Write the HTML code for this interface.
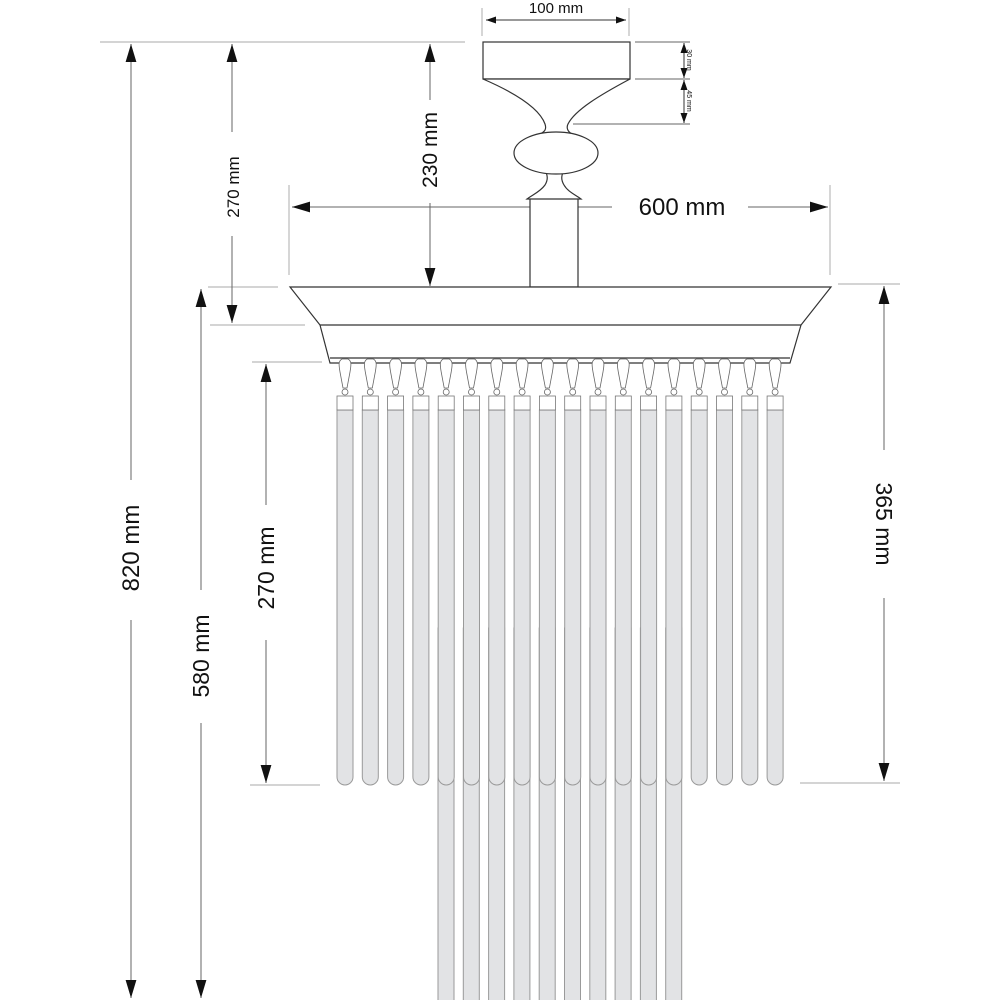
<!DOCTYPE html>
<html><head><meta charset="utf-8"><style>html,body{margin:0;padding:0;background:#fff}svg{display:block}</style></head><body>
<svg width="1000" height="1000" viewBox="0 0 1000 1000" xmlns="http://www.w3.org/2000/svg" font-family="Liberation Sans, sans-serif">
<defs>
<marker id="a" viewBox="0 0 10 10" refX="10" refY="5" markerWidth="10" markerHeight="10" markerUnits="userSpaceOnUse" orient="auto-start-reverse"><path d="M0,1.5 L10,5 L0,8.5 z" fill="#111"/></marker>
<marker id="b" viewBox="0 0 10 10" refX="10" refY="5" markerWidth="18" markerHeight="18" markerUnits="userSpaceOnUse" orient="auto-start-reverse"><path d="M0,2 L10,5 L0,8 z" fill="#111"/></marker>
<g id="rod"><path d="M-3,359 C-7,361 -6,366 -5,372 L-2,388 L2,388 L5,372 C6,366 7,361 3,359 Z" fill="#fff" stroke="#666" stroke-width="0.8"/><circle cx="0" cy="392" r="3" fill="#fff" stroke="#666" stroke-width="0.8"/><rect x="-8" y="396" width="16" height="14" fill="#fff" stroke="#777" stroke-width="0.8"/></g>
</defs>
<!-- extension lines -->
<g stroke="#bbb" stroke-width="1.2" fill="none">
<line x1="100" y1="42" x2="465" y2="42"/>
<line x1="208" y1="287" x2="278" y2="287"/>
<line x1="210" y1="325" x2="305" y2="325"/>
<line x1="252" y1="362" x2="322" y2="362"/>
<line x1="250" y1="785" x2="320" y2="785"/>
<line x1="838" y1="284" x2="900" y2="284"/>
<line x1="800" y1="783" x2="900" y2="783"/>
<line x1="289" y1="185" x2="289" y2="275"/>
<line x1="830" y1="185" x2="830" y2="275"/>
<line x1="482" y1="8" x2="482" y2="36"/>
<line x1="629" y1="8" x2="629" y2="36"/>
</g>
<g stroke="#333" stroke-width="0.8"><line x1="635" y1="42" x2="690" y2="42"/><line x1="635" y1="79" x2="690" y2="79"/><line x1="573" y1="124" x2="690" y2="124"/></g>
<!-- dimension lines -->
<g stroke="#666" stroke-width="1" fill="none">
<line x1="131" y1="44" x2="131" y2="480"/><line x1="131" y1="620" x2="131" y2="998" marker-end="url(#b)"/>
<line x1="131" y1="480" x2="131" y2="44" marker-end="url(#b)"/>
<line x1="232" y1="44" x2="232" y2="132" marker-start="url(#b)"/><line x1="232" y1="236" x2="232" y2="323" marker-end="url(#b)"/>
<line x1="430" y1="44" x2="430" y2="100" marker-start="url(#b)"/><line x1="430" y1="203" x2="430" y2="286" marker-end="url(#b)"/>
<line x1="201" y1="289" x2="201" y2="590" marker-start="url(#b)"/><line x1="201" y1="723" x2="201" y2="998" marker-end="url(#b)"/>
<line x1="266" y1="364" x2="266" y2="505" marker-start="url(#b)"/><line x1="266" y1="640" x2="266" y2="783" marker-end="url(#b)"/>
<line x1="884" y1="286" x2="884" y2="450" marker-start="url(#b)"/><line x1="884" y1="598" x2="884" y2="781" marker-end="url(#b)"/>
<line x1="292" y1="207" x2="612" y2="207" marker-start="url(#b)"/><line x1="748" y1="207" x2="828" y2="207" marker-end="url(#b)"/>
<line x1="486" y1="20" x2="626" y2="20" marker-start="url(#a)" marker-end="url(#a)" stroke="#333"/>
<line x1="684" y1="43" x2="684" y2="78" marker-start="url(#a)" marker-end="url(#a)" stroke="#333"/>
<line x1="684" y1="80" x2="684" y2="123" marker-start="url(#a)" marker-end="url(#a)" stroke="#333"/>
</g>
<!-- labels -->
<g fill="#111">
<text x="556" y="13" font-size="15" text-anchor="middle">100 mm</text>
<text x="682" y="215" font-size="24" text-anchor="middle">600 mm</text>
<text transform="translate(139,548) rotate(-90)" font-size="24" text-anchor="middle">820 mm</text>
<text transform="translate(239,187) rotate(-90)" font-size="17" text-anchor="middle">270 mm</text>
<text transform="translate(437,150) rotate(-90)" font-size="21" text-anchor="middle">230 mm</text>
<text transform="translate(209,656) rotate(-90)" font-size="23" text-anchor="middle">580 mm</text>
<text transform="translate(274,568) rotate(-90)" font-size="23" text-anchor="middle">270 mm</text>
<text transform="translate(876,524) rotate(90)" font-size="23" text-anchor="middle">365 mm</text>
<text transform="translate(687,60) rotate(90)" font-size="7" text-anchor="middle">30 mm</text>
<text transform="translate(687,101) rotate(90)" font-size="7" text-anchor="middle">45 mm</text>
</g>
<!-- fixture -->
<g stroke="#333" stroke-width="1.2" fill="#fff">
<rect x="483" y="42" width="147" height="37"/>
<path d="M483,79 C520,95 540,110 545,124 C547,130 544,132 540,134 L572,134 C568,132 566,128 568,124 C575,110 600,95 630,79 Z"/>
<rect x="530" y="198" width="48" height="89"/>
<path d="M545,170 C548,176 548,180 545,185 C540,192 532,195 527,199 L581,199 C576,195 568,192 564,185 C561,180 561,176 564,170 Z"/>
<ellipse cx="556" cy="153" rx="42" ry="21"/>
<path d="M290,287 L831,287 L801,325 L790,363 L330,363 L320,325 Z"/>
<line x1="320" y1="325" x2="801" y2="325"/>
<line x1="330" y1="358" x2="790" y2="358"/>
</g>
<!-- rods -->
<g fill="#e2e3e5" stroke="#9a9a9a" stroke-width="1">
<!-- long inner rods (behind) -->
<g id="lr">
<rect x="438" y="628" width="16" height="380" rx="0"/>
<rect x="463.3" y="628" width="16" height="380"/>
<rect x="488.6" y="628" width="16" height="380"/>
<rect x="513.9" y="628" width="16" height="380"/>
<rect x="539.2" y="628" width="16" height="380"/>
<rect x="564.5" y="628" width="16" height="380"/>
<rect x="589.8" y="628" width="16" height="380"/>
<rect x="615.1" y="628" width="16" height="380"/>
<rect x="640.4" y="628" width="16" height="380"/>
<rect x="665.7" y="628" width="16" height="380"/>
</g>
<g>
<path d="M337,410 V777 A8,8 0 0 0 353,777 V410 Z"/>
<path d="M362.3,410 V777 A8,8 0 0 0 378.3,777 V410 Z"/>
<path d="M387.6,410 V777 A8,8 0 0 0 403.6,777 V410 Z"/>
<path d="M412.9,410 V777 A8,8 0 0 0 428.9,777 V410 Z"/>
<path d="M438.2,410 V777 A8,8 0 0 0 454.2,777 V410 Z"/>
<path d="M463.5,410 V777 A8,8 0 0 0 479.5,777 V410 Z"/>
<path d="M488.8,410 V777 A8,8 0 0 0 504.8,777 V410 Z"/>
<path d="M514.1,410 V777 A8,8 0 0 0 530.1,777 V410 Z"/>
<path d="M539.4,410 V777 A8,8 0 0 0 555.4,777 V410 Z"/>
<path d="M564.7,410 V777 A8,8 0 0 0 580.7,777 V410 Z"/>
<path d="M590,410 V777 A8,8 0 0 0 606,777 V410 Z"/>
<path d="M615.3,410 V777 A8,8 0 0 0 631.3,777 V410 Z"/>
<path d="M640.6,410 V777 A8,8 0 0 0 656.6,777 V410 Z"/>
<path d="M665.9,410 V777 A8,8 0 0 0 681.9,777 V410 Z"/>
<path d="M691.2,410 V777 A8,8 0 0 0 707.2,777 V410 Z"/>
<path d="M716.5,410 V777 A8,8 0 0 0 732.5,777 V410 Z"/>
<path d="M741.8,410 V777 A8,8 0 0 0 757.8,777 V410 Z"/>
<path d="M767.1,410 V777 A8,8 0 0 0 783.1,777 V410 Z"/>
</g>
</g>
<g>
<use href="#rod" x="345"/><use href="#rod" x="370.3"/><use href="#rod" x="395.6"/><use href="#rod" x="420.9"/><use href="#rod" x="446.2"/><use href="#rod" x="471.5"/><use href="#rod" x="496.8"/><use href="#rod" x="522.1"/><use href="#rod" x="547.4"/><use href="#rod" x="572.7"/><use href="#rod" x="598"/><use href="#rod" x="623.3"/><use href="#rod" x="648.6"/><use href="#rod" x="673.9"/><use href="#rod" x="699.2"/><use href="#rod" x="724.5"/><use href="#rod" x="749.8"/><use href="#rod" x="775.1"/>
</g>
</svg>
</body></html>
